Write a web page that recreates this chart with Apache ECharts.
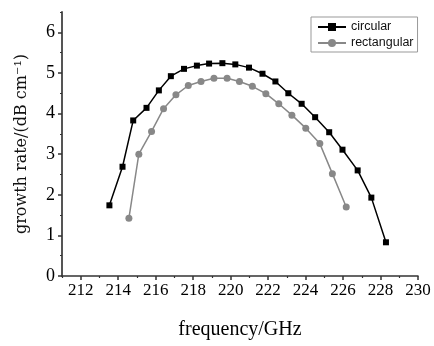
<!DOCTYPE html>
<html>
<head>
<meta charset="utf-8">
<script src="https://cdn.jsdelivr.net/npm/echarts@6/dist/echarts.min.js"></script>
<style>
  html, body { margin: 0; padding: 0; background: #fff; }
  #chart { width: 434px; height: 346px; }
</style>
</head>
<body>
<div id="chart"></div>
<script>
// growth rate vs frequency
const circularFreq = [213.53, 214.23, 214.80, 215.51, 216.17, 216.81, 217.51, 218.20, 218.85, 219.56,
  220.25, 220.98, 221.70, 222.39, 223.08, 223.79, 224.51, 225.26, 225.97, 226.78, 227.51, 228.29];
const circularRate = [1.74, 2.69, 3.83, 4.14, 4.57, 4.92, 5.10, 5.18, 5.23, 5.24,
  5.21, 5.13, 4.98, 4.79, 4.50, 4.24, 3.91, 3.54, 3.11, 2.60, 1.93, 0.83];

const rectFreq = [214.57, 215.10, 215.78, 216.42, 217.08, 217.74, 218.42, 219.11, 219.81,
  220.47, 221.16, 221.88, 222.57, 223.27, 224.01, 224.76, 225.43, 226.17];
const rectRate = [1.42, 3.00, 3.56, 4.12, 4.46, 4.69, 4.79, 4.87, 4.87,
  4.79, 4.67, 4.49, 4.24, 3.96, 3.64, 3.26, 2.52, 1.70];

const xTicks = [212, 214, 216, 218, 220, 222, 224, 226, 228, 230];
const xMinorTicks = [211, 213, 215, 217, 219, 221, 223, 225, 227, 229];
const yTicks = [0, 1, 2, 3, 4, 5, 6];
const yMinorTicks = [0.5, 1.5, 2.5, 3.5, 4.5, 5.5, 6.5];

function zip(xs, ys) {
  return xs.map((x, i) => [x, ys[i]]);
}

const axisLineStyle = { color: '#333', width: 1.5 };
const labelFont = { fontFamily: 'Liberation Serif', fontSize: 17, color: '#000' };

const chart = echarts.init(document.getElementById('chart'));

const option = {
  animation: false,
  backgroundColor: '#fff',
  grid: { left: 62, right: 16, top: 12, bottom: 70 },
  legend: {
    orient: 'vertical',
    left: 311,
    top: 17,
    padding: [3, 4, 2, 6],
    itemGap: 2,
    itemWidth: 28,
    itemHeight: 10,
    borderColor: '#999',
    borderWidth: 1,
    textStyle: { fontFamily: 'Liberation Sans', fontSize: 12.5, color: '#111', lineHeight: 14 },
    data: ['circular', 'rectangular']
  },
  xAxis: [
    {
      type: 'value',
      min: 211,
      max: 230,
      name: 'frequency/GHz',
      nameLocation: 'middle',
      nameGap: 44,
      nameTextStyle: { fontFamily: 'Liberation Serif', fontSize: 20, color: '#000' },
      axisLine: { lineStyle: axisLineStyle },
      axisTick: { customValues: xTicks, length: 4, lineStyle: { color: '#333', width: 1.5 } },
      axisLabel: { customValues: xTicks, margin: 6, ...labelFont },
      splitLine: { show: false }
    },
    {
      type: 'value',
      position: 'bottom',
      min: 211,
      max: 230,
      axisLine: { show: false },
      axisTick: { customValues: xMinorTicks, length: 2, lineStyle: { color: '#333', width: 1.2 } },
      axisLabel: { show: false },
      splitLine: { show: false }
    }
  ],
  yAxis: [
    {
      type: 'value',
      min: 0,
      max: 6.5,
      name: 'growth rate/(dB cm⁻¹)',
      nameLocation: 'middle',
      nameRotate: 90,
      nameGap: 32,
      nameTextStyle: { fontFamily: 'DejaVu Serif', fontSize: 16, color: '#111' },
      axisLine: { show: true, lineStyle: { color: '#555', width: 2 } },
      axisTick: { customValues: yTicks, length: 4, lineStyle: { color: '#333', width: 1.5 } },
      axisLabel: { customValues: yTicks, margin: 7, ...labelFont, fontSize: 18 },
      splitLine: { show: false }
    },
    {
      type: 'value',
      position: 'left',
      min: 0,
      max: 6.5,
      axisLine: { show: false },
      axisTick: { customValues: yMinorTicks, length: 2, lineStyle: { color: '#333', width: 1.2 } },
      axisLabel: { show: false },
      splitLine: { show: false }
    }
  ],
  series: [
    {
      name: 'circular',
      type: 'line',
      data: zip(circularFreq, circularRate),
      symbol: 'rect',
      symbolSize: 6,
      color: '#000',
      lineStyle: { color: '#000', width: 1.5 },
      itemStyle: { color: '#000' }
    },
    {
      name: 'rectangular',
      type: 'line',
      data: zip(rectFreq, rectRate),
      symbol: 'circle',
      symbolSize: 7,
      color: '#888',
      lineStyle: { color: '#888', width: 1.5 },
      itemStyle: { color: '#888' }
    }
  ]
};

chart.setOption(option);
</script>
</body>
</html>
